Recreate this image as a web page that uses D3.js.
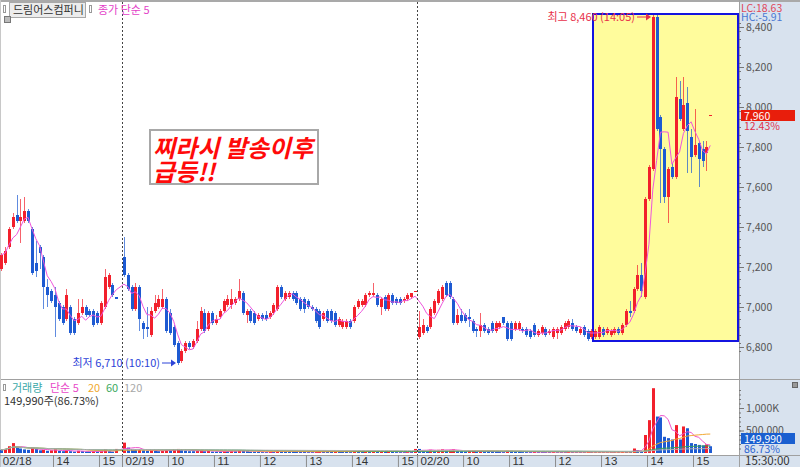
<!DOCTYPE html>
<html>
<head>
<meta charset="utf-8">
<title>드림어스컴퍼니</title>
<script src="https://cdn.jsdelivr.net/npm/d3@7"></script>
<style>
body { margin: 0; background: #fff; }
svg { display: block; font-family: "Noto Sans CJK KR", "Noto Sans", sans-serif; }
</style>
</head>
<body>
<div id="chart"></div>
<script>
/*-------------------- Data (5 minute bars, [open, high, low, close]) -------------------*/

var day0218 = [
    [7190,7270,7180,7260],[7220,7300,7210,7280],[7300,7400,7290,7390],[7400,7470,7390,7450],
    [7460,7560,7420,7430],[7430,7540,7320,7450],[7430,7550,7420,7480],[7480,7490,7420,7430],
    [7390,7400,7160,7170],[7220,7330,7150,7180],[7300,7310,7190,7270],[7250,7260,6990,7100],
    [7100,7140,7000,7060],[7080,7090,7020,7030],[7060,7100,6850,7000],[7020,7030,6930,6940],
    [7000,7010,6910,6920],[6940,7090,6930,7060],[7000,7010,6860,6870],[6940,6950,6860,6870],
    [6920,7040,6910,6970],[6970,7040,6960,7000],[7000,7010,6950,6960],[6980,6990,6950,6960],
    [6980,6990,6900,6910],[6970,6980,6910,6920],[6920,7030,6910,7020],[7000,7190,6990,7150],
    [7100,7170,7090,7160],[7110,7120,7050,7060],[7050,7050,7040,7040]
];
var day0219 = [
    [7250,7350,7150,7160],[7160,7170,7080,7090],[7100,7110,6980,6990],[6990,7120,6980,7100],
    [7100,7110,6880,6940],[6920,6930,6840,6890],[6900,7000,6850,6890],[6860,7000,6850,6980],
    [6980,7060,6970,7020],[7000,7060,6990,7040],[7000,7090,6990,7040],[7040,7050,6870,6880],
    [6970,6990,6860,6870],[6900,6910,6800,6810],[6820,6830,6710,6720],[6730,6790,6720,6780],
    [6780,6830,6770,6820],[6820,6830,6790,6800],[6800,6840,6790,6830],[6830,6930,6820,6890],
    [6890,7000,6880,6980],[6970,6990,6870,6880],[6890,6980,6880,6970],[6970,6980,6910,6920],
    [6920,6960,6910,6940],[6950,6990,6940,6980],[6980,7040,6970,7030],[7010,7060,7000,7040],
    [7010,7090,6990,7040],[7020,7050,7010,7040],[7040,7140,7030,7080],[7070,7080,6960,6970],
    [6960,6990,6920,6980],[6980,6990,6920,6930],[6970,6980,6910,6920],[6940,6970,6930,6960],
    [6960,6970,6930,6940],[6960,6980,6930,6940],[6950,6980,6940,6970],[6970,7020,6960,7010],
    [6990,7110,6980,7100],[7100,7110,7040,7050],[7040,7080,7030,7070],[7050,7080,7040,7070],
    [7070,7080,7030,7040],[7070,7080,7010,7020],[7040,7050,6980,6990],[7040,7050,6970,6990],
    [7030,7040,6990,7000],[7000,7010,6980,6990],[6990,7000,6920,6930],[6980,6990,6890,6900],
    [6940,6980,6930,6970],[6980,6990,6920,6930],[6980,6990,6920,6930],[6970,6980,6900,6910],
    [6910,6950,6900,6940],[6900,6940,6890,6930],[6900,6940,6890,6930],[6930,6940,6890,6900],
    [6930,7010,6920,7000],[7000,7040,6990,7030],[7010,7040,7000,7030],[7010,7070,7000,7060],
    [7060,7080,7050,7070],[7060,7120,7050,7070],[7060,7070,7000,7010],[7000,7050,6960,7040],
    [7050,7060,6980,6990],[6990,7070,6980,7060],[7060,7070,7010,7020],[7040,7050,7010,7020],
    [7040,7050,7010,7020],[7030,7050,7020,7040],[7040,7070,7030,7060],[7050,7070,7040,7070],
    [7080,7080,7080,7080]
];
var day0220 = [
    [6850,6980,6840,6900],[6870,6940,6860,6910],[6900,6910,6870,6880],[6900,7000,6890,6990],
    [6970,7040,6960,7030],[7020,7090,7010,7080],[7040,7110,7030,7100],[7120,7130,7050,7060],
    [7120,7130,7040,7050],[7040,7050,6910,6920],[6920,6990,6910,6960],[6960,6990,6920,6930],
    [6960,6970,6920,6930],[6950,6990,6900,6940],[6930,6940,6870,6880],[6890,6900,6850,6880],
    [6880,6970,6850,6910],[6910,6920,6870,6880],[6890,6900,6860,6870],[6920,6930,6870,6880],
    [6880,6930,6870,6920],[6900,6930,6890,6920],[6950,6950,6910,6920],[6920,6930,6830,6840],
    [6920,6930,6830,6840],[6890,6930,6880,6920],[6890,6930,6880,6920],[6890,6900,6870,6880],
    [6890,6900,6850,6860],[6880,6890,6840,6850],[6910,6920,6850,6860],[6860,6890,6850,6880],
    [6870,6910,6860,6900],[6890,6900,6850,6860],[6870,6890,6860,6880],[6850,6900,6840,6890],
    [6870,6900,6840,6890],[6870,6910,6860,6900],[6890,6930,6880,6920],[6900,6940,6890,6930],
    [6920,6940,6880,6890],[6900,6910,6870,6880],[6870,6900,6860,6890],[6900,6910,6850,6860],
    [6880,6890,6830,6840],[6850,6890,6840,6880],[6850,6890,6840,6880],[6850,6910,6840,6900],
    [6890,6900,6850,6860],[6870,6900,6860,6890],[6860,6890,6850,6880],[6870,6900,6860,6890],
    [6890,6900,6860,6870],[6870,6920,6860,6910],[6910,6990,6900,6980],[6980,7030,6950,6970],
    [6980,7100,6970,7090],[7090,7210,7080,7160],[7160,7220,7050,7080],[7050,7550,7040,7540],
    [7540,7710,7530,7700],[7690,8460,7680,8450],[8450,8460,7880,7890],[7950,7960,7520,7790],
    [7790,7800,7520,7550],[7550,7700,7420,7690],[7700,7720,7640,7650],[7650,8150,7640,8050],
    [8040,8130,7930,7940],[7890,8150,7880,8010],[8020,8100,7670,7880],[7850,7890,7670,7750],
    [7760,7990,7750,7810],[7820,7830,7600,7740],[7790,7830,7700,7730],[7770,7830,7680,7800],
    [7960,7960,7960,7960]
];

// volume, thousands of shares
var vol0218 = [70,90,150,220,130,100,80,70,120,90, 60,70,50,60,80,50,40,60,40,30,
    50,40,30,30,40,30,50,80,40,30,90];
var vol0219 = [230,120,90,70,80,60,50,60,50,40, 50,70,60,80,90,60,50,40,40,50,
    60,40,50,30,30,30,40,40,50,40, 60,50,40,30,30,30,20,20,30,30,
    60,40,30,30,30,30,30,30,20,20, 30,40,30,30,30,40,30,30,30,20,
    50,40,30,40,30,40,30,40,30,40, 30,20,20,20,30,30,90];
var vol0220 = [90,60,40,70,60,70,80,60,70,80, 40,40,30,40,50,30,40,30,30,30,
    30,30,20,50,50,30,30,20,20,20, 30,20,20,20,20,30,20,20,20,30,
    20,20,20,20,30,20,20,20,20,20, 20,20,20,30,30,20,100,60,40,400,
    730,1440,810,790,360,330,300,620,300,590, 550,220,200,180,170,190,149.99];

var dayFirstSlot = [-32, 0, 77];
var tickLabels = ["02/18","14","15","02/19","10","11","12","13","14","15","02/20","10","11","12","13","14","15"];
var tickSlots = [-32,-18,-6,0,12,24,36,48,60,72,77,89,101,113,125,137,149];
var priceTicks = [6800,7000,7200,7400,7600,7800,8000,8200,8400];
var volTicks = [500, 1000];
var volMaPeriods = [5, 20, 60, 120];
var volMaColors = ["#ee55cc", "#f2a935", "#3aa55a", "#b0b0b0"];
var highlight = { fromSlot: 122.8, top: 8465, bottom: 6830 };

var svg, xScale, yScale, yVol, candles;
var upColor = "#f2202c", downColor = "#1d5ad2";
var plotRight = 739;

function buildCandles() {
    candles = [];
    [day0218, day0219, day0220].forEach(function(day, di) {
        var vols = [vol0218, vol0219, vol0220][di];
        day.forEach(function(d, i) {
            candles.push({slot: dayFirstSlot[di] + i, o: d[0], h: d[1], l: d[2], c: d[3], v: vols[i]});
        });
    });
    candles.forEach(function(d, i) {
        var prev = i > 0 ? candles[i - 1] : d;
        d.up = d.c > d.o || (d.c === d.o && d.c >= prev.c);
        d.volUp = d.v > prev.v;
        d.ma5 = d3.mean(candles.slice(Math.max(0, i - 4), i + 1), e => e.c);
        d.vma = volMaPeriods.map(p => d3.mean(candles.slice(Math.max(0, i - p + 1), i + 1), e => e.v));
    });
}

function setupScales() {
    xScale = d3.scaleLinear().domain([-31.83, 161]).range([0, plotRight]);
    yScale = d3.scaleLinear().domain([6800, 8400]).range([347, 27]);
    yVol = d3.scaleLinear().domain([0, 1000]).range([453, 408]);
}

var cx = d => Math.round(xScale(d.slot + 0.5));

function drawFrame() {
    svg.append("rect").attr("width", 800).attr("height", 467).attr("fill", "#fff");
    svg.append("rect").attr("x", plotRight).attr("y", 0).attr("width", 61).attr("height", 467).attr("fill", "#d8e2ee");
    svg.append("rect").attr("x", 0).attr("y", 455).attr("width", plotRight).attr("height", 12).attr("fill", "#d8e2ee");
    svg.append("rect").attr("x", 0).attr("y", 0).attr("width", 800).attr("height", 2).attr("fill", "#a9a9a9");
    svg.append("line").attr("x1", 0).attr("x2", 800).attr("y1", 379.5).attr("y2", 379.5).attr("stroke", "#a0a0a0");
    svg.append("line").attr("x1", 0).attr("x2", 800).attr("y1", 455.5).attr("y2", 455.5).attr("stroke", "#a0a0a0");
    svg.append("line").attr("x1", plotRight + 0.5).attr("x2", plotRight + 0.5).attr("y1", 0).attr("y2", 467).attr("stroke", "#a0a0a0");
    svg.append("line").attr("x1", 0.5).attr("x2", 0.5).attr("y1", 0).attr("y2", 455).attr("stroke", "#c8c8c8");

    // highlighted zone after the surge
    var x0 = Math.round(xScale(highlight.fromSlot));
    svg.append("rect")
        .attr("x", x0).attr("y", yScale(highlight.top))
        .attr("width", plotRight - 1 - x0).attr("height", yScale(highlight.bottom) - yScale(highlight.top))
        .attr("fill", "#fffc9c").attr("stroke", "#1414e0").attr("stroke-width", 2);
}

function drawCandles() {
    var g = svg.append("g");
    g.selectAll("line.wick").data(candles).enter().append("line")
        .attr("x1", d => cx(d) + 0.5).attr("x2", d => cx(d) + 0.5)
        .attr("y1", d => yScale(d.h)).attr("y2", d => yScale(d.l))
        .attr("stroke", d => d.up ? upColor : downColor).attr("stroke-opacity", 0.7);
    g.selectAll("rect.body").data(candles).enter().append("rect")
        .attr("x", d => cx(d) - 1).attr("width", 3)
        .attr("y", d => Math.round(yScale(Math.max(d.o, d.c))))
        .attr("height", d => Math.max(1, Math.round(Math.abs(yScale(d.o) - yScale(d.c)))))
        .attr("fill", d => d.up ? upColor : downColor);

    svg.append("path").datum(candles)
        .attr("fill", "none").attr("stroke", "#ee55dd").attr("stroke-width", 1)
        .attr("d", d3.line().x(d => xScale(d.slot + 0.5)).y(d => yScale(d.ma5)));
}

function drawVolume() {
    var g = svg.append("g");
    g.selectAll("rect").data(candles).enter().append("rect")
        .attr("x", d => cx(d) - 1).attr("width", 3)
        .attr("y", d => yVol(d.v)).attr("height", d => yVol(0) - yVol(d.v))
        .attr("fill", d => d.volUp ? upColor : downColor);

    volMaPeriods.forEach(function(p, k) {
        svg.append("path").datum(candles)
            .attr("fill", "none").attr("stroke", volMaColors[k]).attr("stroke-width", 1)
            .attr("d", d3.line().x(d => xScale(d.slot + 0.5)).y(d => yVol(d.vma[k])));
    });
}

function drawDayLines() {
    svg.selectAll("line.day").data([0, 77]).enter().append("line")
        .attr("x1", d => Math.round(xScale(d)) + 0.5).attr("x2", d => Math.round(xScale(d)) + 0.5)
        .attr("y1", 2).attr("y2", 455)
        .attr("stroke", "#444").attr("stroke-dasharray", "2,2");
}

function drawAxes() {
    var fmt = d3.format(",");
    var minor = d3.range(6700, 8500, 40);
    var gm = svg.append("g").attr("transform", "translate(" + plotRight + ",0)")
        .call(d3.axisRight(yScale).tickValues(minor).tickSize(2).tickFormat(""));
    var ga = svg.append("g").attr("transform", "translate(" + plotRight + ",0)")
        .call(d3.axisRight(yScale).tickValues(priceTicks).tickSize(5).tickPadding(2).tickFormat(fmt));
    var vm = svg.append("g").attr("transform", "translate(" + plotRight + ",0)")
        .call(d3.axisRight(yVol).tickValues(d3.range(100, 1500, 100)).tickSize(2).tickFormat(""));
    var va = svg.append("g").attr("transform", "translate(" + plotRight + ",0)")
        .call(d3.axisRight(yVol).tickValues(volTicks).tickSize(5).tickPadding(2)
            .tickFormat(d => d >= 1000 ? fmt(d) + "K" : fmt(d * 1000)));
    [gm, ga, vm, va].forEach(function(g) {
        g.select(".domain").remove();
        g.selectAll("line").attr("stroke", "#777");
        g.selectAll("text").attr("fill", "#555").style("font-size", "10.5px").style("font-family", "'Noto Sans CJK KR'");
    });
    gm.selectAll("text").remove();
    vm.selectAll("text").remove();
    gm.selectAll(".tick").filter(d => d < 6780 || d > 8420).remove();

    var gx = svg.append("g").attr("transform", "translate(0,455)")
        .call(d3.axisBottom(xScale).tickValues(tickSlots).tickSize(12).tickFormat((d, i) => tickLabels[i]));
    gx.select(".domain").remove();
    gx.selectAll("line").attr("stroke", "#8c8c8c");
    gx.selectAll("text").attr("x", 3).attr("y", 2).attr("dy", "0.72em")
        .style("text-anchor", "start").attr("fill", "#333").style("font-size", "11.5px");
}

function drawLabels() {
    var last = candles[candles.length - 1];

    // header
    svg.append("rect").attr("x", 3.5).attr("y", 5.5).attr("width", 2).attr("height", 7).attr("fill", "#fff").attr("stroke", "#999");
    svg.append("rect").attr("x", 9.5).attr("y", 2.5).attr("width", 76).attr("height", 15).attr("fill", "#ececec").attr("stroke", "#a8a8a8");
    svg.append("text").attr("x", 13).attr("y", 14).text("드림어스컴퍼니").attr("fill", "#333").style("font-size", "11px");
    svg.append("rect").attr("x", 89.5).attr("y", 5.5).attr("width", 2).attr("height", 7).attr("fill", "#fff").attr("stroke", "#999");
    svg.append("text").attr("x", 98).attr("y", 14).text("종가 단순 5").attr("fill", "#e33fc8").style("font-size", "11px");
    svg.append("rect").attr("x", 4.5).attr("y", 16.5).attr("width", 6).attr("height", 6).attr("fill", "#bbb").attr("stroke", "#777");

    svg.append("text").attr("x", 741).attr("y", 12).text("LC:18.63").attr("fill", "#e0485a").style("font-size", "10.5px");
    svg.append("text").attr("x", 741).attr("y", 21).text("HC:-5.91").attr("fill", "#4a78d2").style("font-size", "10.5px");

    // current price
    var yc = Math.round(yScale(last.c));
    svg.append("rect").attr("x", 741).attr("y", yc - 5).attr("width", 54).attr("height", 11).attr("fill", "#e81e0c");
    svg.append("text").attr("x", 744).attr("y", yc + 5).text(d3.format(",")(last.c)).attr("fill", "#fff").style("font-size", "10.5px");
    svg.append("text").attr("x", 744).attr("y", yc + 15).text("12.43%").attr("fill", "#e0304a").style("font-size", "10.5px");

    // current volume
    var yv = Math.round(yVol(last.v)) - 8;
    svg.append("rect").attr("x", 741).attr("y", yv - 5).attr("width", 54).attr("height", 11).attr("fill", "#1a5fd0");
    svg.append("text").attr("x", 744).attr("y", yv + 5).text(d3.format(",")(Math.round(last.v * 1000))).attr("fill", "#fff").style("font-size", "10.5px");
    svg.append("text").attr("x", 744).attr("y", yv + 15).text("86.73%").attr("fill", "#2a62d0").style("font-size", "10.5px");
    svg.append("rect").attr("x", 792.5).attr("y", 382.5).attr("width", 5).attr("height", 5).attr("fill", "#999").attr("stroke", "#666");

    // volume header
    svg.append("rect").attr("x", 3.5).attr("y", 384.5).attr("width", 2).attr("height", 6).attr("fill", "#fff").attr("stroke", "#999");
    var head = [["거래량", 12, "#3aa8a8"], ["단순 5", 50, "#e848c8"], ["20", 88, "#f0a830"], ["60", 106, "#40a860"], ["120", 124, "#a8a8a8"]];
    svg.selectAll("text.vh").data(head).enter().append("text")
        .attr("x", d => d[1]).attr("y", 392).text(d => d[0]).attr("fill", d => d[2]).style("font-size", "11px");
    svg.append("text").attr("x", 4).attr("y", 405).text("149,990주(86.73%)").attr("fill", "#333").style("font-size", "11px");

    // high / low markers
    var hi = candles.reduce((a, b) => b.h > a.h ? b : a);
    var lo = candles.reduce((a, b) => b.l < a.l ? b : a);
    var marks = [
        {d: hi, y: yScale(hi.h) + 2, text: "최고 8,460 (14:05)", color: "#e8304a"},
        {d: lo, y: yScale(lo.l) - 2, text: "최저 6,710 (10:10)", color: "#2d44d8"}
    ];
    marks.forEach(function(m) {
        var xe = cx(m.d) - 2;
        svg.append("text").attr("x", xe - 16).attr("y", m.y + 4).attr("text-anchor", "end")
            .text(m.text).attr("fill", m.color).style("font-size", "11px");
        svg.append("line").attr("x1", xe - 14).attr("x2", xe - 3).attr("y1", m.y).attr("y2", m.y).attr("stroke", m.color);
        svg.append("path").attr("d", "M" + xe + "," + m.y + "l-5,-3.5v7z").attr("fill", m.color);
    });

    // callout
    svg.append("rect").attr("x", 150).attr("y", 130).attr("width", 168).attr("height", 54)
        .attr("fill", "#fff").attr("stroke", "#a8a8a8").attr("stroke-width", 2);
    var call = svg.append("text").attr("fill", "#ff0a0a").style("font-size", "24px")
        .style("font-weight", "bold").style("font-style", "italic");
    call.append("tspan").attr("x", 153).attr("y", 157).text("찌라시 발송이후");
    call.append("tspan").attr("x", 153).attr("y", 181).text("급등!!");

    svg.append("text").attr("x", 745).attr("y", 465).text("15:30:00").attr("fill", "#333").style("font-size", "11.5px");
}

function initialize() {
    svg = d3.select("#chart").append("svg").attr("width", 800).attr("height", 467);
    buildCandles();
    setupScales();
    drawFrame();
    drawCandles();
    drawVolume();
    drawDayLines();
    drawAxes();
    drawLabels();
}

initialize();
</script>
</body>
</html>
